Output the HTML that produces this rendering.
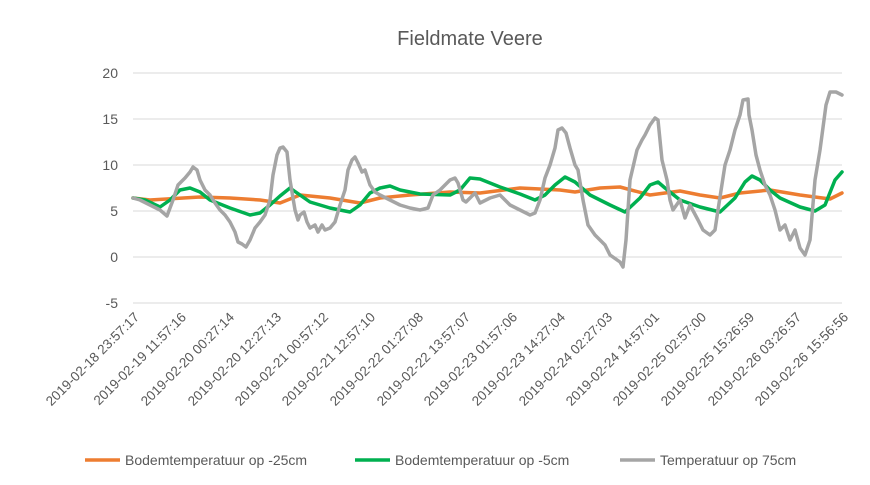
<!DOCTYPE html>
<html><head><meta charset="utf-8"><style>body{margin:0;background:#fff}svg{display:block;font-family:"Liberation Sans",sans-serif}</style></head>
<body>
<svg width="870" height="485" viewBox="0 0 870 485">
<rect width="870" height="485" fill="#fff"/>
<text x="470" y="45" font-size="20" fill="#595959" text-anchor="middle">Fieldmate Veere</text>
<g stroke="#d9d9d9" stroke-width="1">
<line x1="133" x2="842" y1="73" y2="73"/><line x1="133" x2="842" y1="119" y2="119"/><line x1="133" x2="842" y1="165" y2="165"/><line x1="133" x2="842" y1="211" y2="211"/><line x1="133" x2="842" y1="257" y2="257"/><line x1="133" x2="842" y1="303" y2="303"/>
</g>
<g font-size="14" fill="#595959" text-anchor="end">
<text x="118" y="78">20</text><text x="118" y="124">15</text><text x="118" y="170">10</text><text x="118" y="216">5</text><text x="118" y="262">0</text><text x="118" y="308">-5</text>
</g>
<g font-size="13.5" fill="#595959" text-anchor="end">
<text transform="translate(140,318) rotate(-45)">2019-02-18 23:57:17</text>
<text transform="translate(187,318) rotate(-45)">2019-02-19 11:57:16</text>
<text transform="translate(235,318) rotate(-45)">2019-02-20 00:27:14</text>
<text transform="translate(282,318) rotate(-45)">2019-02-20 12:27:13</text>
<text transform="translate(329,318) rotate(-45)">2019-02-21 00:57:12</text>
<text transform="translate(376,318) rotate(-45)">2019-02-21 12:57:10</text>
<text transform="translate(424,318) rotate(-45)">2019-02-22 01:27:08</text>
<text transform="translate(471,318) rotate(-45)">2019-02-22 13:57:07</text>
<text transform="translate(518,318) rotate(-45)">2019-02-23 01:57:06</text>
<text transform="translate(566,318) rotate(-45)">2019-02-23 14:27:04</text>
<text transform="translate(613,318) rotate(-45)">2019-02-24 02:27:03</text>
<text transform="translate(660,318) rotate(-45)">2019-02-24 14:57:01</text>
<text transform="translate(707,318) rotate(-45)">2019-02-25 02:57:00</text>
<text transform="translate(755,318) rotate(-45)">2019-02-25 15:26:59</text>
<text transform="translate(802,318) rotate(-45)">2019-02-26 03:26:57</text>
<text transform="translate(849,318) rotate(-45)">2019-02-26 15:56:56</text>
</g>
<g fill="none" stroke-width="3.5" stroke-linejoin="round" stroke-linecap="round">
<polyline stroke="#ed7d31" points="133,198 150,200 200,197 230,198 260,200 280,203 300,195 330,198 360,203 380,198 410,195 450,192 480,193 520,188 560,190 575,192 600,188 620,187 650,195 680,191 700,195 720,198 740,193 770,190 800,195 815,197 830,199 842,193"/>
<polyline stroke="#00b050" points="133,198 145,200 160,207 170,200 180,190 190,188 200,192 210,200 230,208 250,215 260,213 270,205 280,196 290,188 300,195 310,202 330,208 350,212 360,205 370,193 380,188 390,186 400,190 420,194 450,195 460,190 470,178 480,179 500,187 520,194 535,200 545,195 555,185 565,177 575,182 590,195 610,205 625,212 640,198 650,185 658,182 665,188 680,200 700,207 720,212 735,198 745,182 752,176 760,180 770,190 780,198 800,207 815,211 825,205 835,180 842,172"/>
<polyline stroke="#a5a5a5" points="133,198 140,200 150,205 160,210 167,216 173,200 178,185 185,178 190,172 193,167 197,170 200,180 205,190 210,195 215,203 220,210 225,215 230,222 235,232 238,242 242,244 246,247 250,240 255,228 260,222 265,215 270,200 273,175 277,155 280,148 283,147 287,152 290,180 295,210 298,220 300,215 304,212 307,222 310,228 315,225 318,232 322,225 325,230 330,228 335,222 340,205 345,190 348,170 352,160 355,157 358,163 362,172 365,170 370,185 375,192 380,195 390,200 400,205 410,208 420,210 428,208 433,195 440,190 445,185 450,180 455,178 458,183 463,200 466,202 470,198 475,193 480,203 490,198 500,195 510,205 520,210 530,215 535,213 540,200 545,178 550,165 555,148 558,130 562,128 566,133 570,148 575,165 578,170 583,200 588,225 595,235 600,240 605,245 610,255 620,262 623,267 626,240 630,180 637,150 642,140 645,135 650,125 655,118 658,120 662,160 667,180 670,200 673,210 680,200 685,218 690,205 698,220 703,230 710,235 715,230 718,210 725,165 730,150 735,130 740,115 743,100 748,99 749,115 752,130 756,155 760,170 765,185 770,195 775,210 780,230 785,225 790,240 795,230 800,248 805,255 810,240 815,180 820,150 826,105 830,92 836,92 842,95"/>
</g>
<g font-size="14" fill="#595959">
<line x1="85" x2="120" y1="460" y2="460" stroke="#ed7d31" stroke-width="3.5"/><text x="125" y="465">Bodemtemperatuur op -25cm</text>
<line x1="355" x2="390" y1="460" y2="460" stroke="#00b050" stroke-width="3.5"/><text x="395" y="465">Bodemtemperatuur op -5cm</text>
<line x1="620" x2="655" y1="460" y2="460" stroke="#a5a5a5" stroke-width="3.5"/><text x="660" y="465">Temperatuur op 75cm</text>
</g>
</svg>
</body></html>
